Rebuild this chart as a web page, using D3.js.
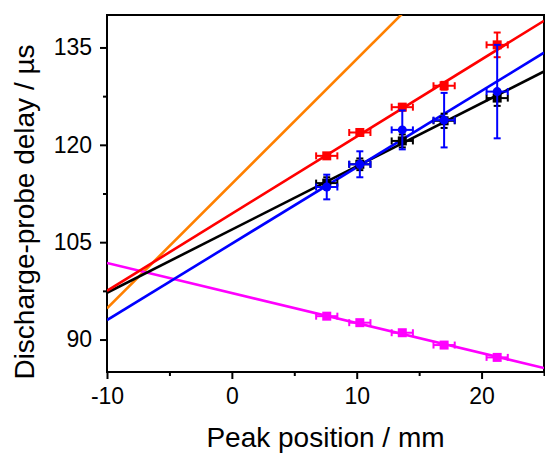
<!DOCTYPE html>
<html>
<head>
<meta charset="utf-8">
<script src="https://d3js.org/d3.v7.min.js"></script>
<style>
body { margin: 0; background: #fff; }
text { font-family: "Liberation Sans", Arial, sans-serif; }
.axis path { display: none; }
.axis line { stroke: #000; stroke-width: 2px; }
.axis text { font-size: 23px; fill: #000; }
</style>
</head>
<body>
<svg id="chart" width="545" height="454"></svg>
<script>

// peak positions (mm) of the measured points
var peakX = [7.6, 10.25, 13.65, 17.0, 21.25];
var xErr = [0.85, 0.85, 0.85, 0.85, 0.85];

// delays (us)
var redY = [118.3, 121.9, 125.8, 129.1, 135.4];
var redErr = [0.4, 0.4, 0.5, 0.6, 1.9];
var blackY = [114.1, 117.0, 120.6, 123.7, 127.2];
var blackErr = [0.9, 0.9, 1.0, 1.1, 1.2];
var blueY = [113.5, 117.0, 122.3, 123.8, 128.2];
var blueErr = [1.9, 2.0, 3.0, 4.2, 7.2];
var magentaY = [93.6, 92.6, 91.05, 89.15, 87.25];
var magentaErr = [0.4, 0.4, 0.4, 0.4, 0.4];

// end points of the fitted lines
var redFit = [[-10, 97.5], [25, 139.1]];
var blackFit = [[-10, 97.2], [25, 131.3]];
var blueFit = [[-10, 93.0], [25, 134.2]];
var orangeFit = [[-10, 94.8], [25, 162.0]];
var magentaFit = [[-10, 101.8], [25, 85.6]];

var xTicks = [-10, 0, 10, 20];
var xMinor = [-5, 5, 15, 25];
var yTicks = [90, 105, 120, 135];
var yMinor = [97.5, 112.5, 127.5];

var svg = d3.select("#chart");
var mLeft = 107, mRight = 544, mTop = 15, mBottom = 372;

var x = d3.scaleLinear().domain([-10, 25]).range([mLeft, mRight]);
var y = d3.scaleLinear().domain([85, 140]).range([mBottom, mTop]);

svg.append("defs").append("clipPath").attr("id", "clip")
  .append("rect").attr("x", mLeft).attr("y", mTop)
  .attr("width", mRight - mLeft).attr("height", mBottom - mTop);

// axes
svg.append("g").attr("class", "axis")
  .attr("transform", "translate(0," + mBottom + ")")
  .call(d3.axisBottom(x).tickValues(xTicks).tickSize(7).tickPadding(9).tickFormat(d3.format("d")));
svg.append("g").attr("class", "axis")
  .attr("transform", "translate(0," + mBottom + ")")
  .call(d3.axisBottom(x).tickValues(xMinor).tickSize(4).tickFormat(""));
svg.append("g").attr("class", "axis")
  .attr("transform", "translate(" + mLeft + ",0)")
  .call(d3.axisLeft(y).tickValues(yTicks).tickSize(7).tickPadding(8));
svg.append("g").attr("class", "axis")
  .attr("transform", "translate(" + mLeft + ",0)")
  .call(d3.axisLeft(y).tickValues(yMinor).tickSize(4).tickFormat(""));

svg.selectAll(".axis text").text(function(){ return d3.select(this).text().replace("\u2212", "-"); });

svg.append("rect")
  .attr("x", mLeft).attr("y", mTop)
  .attr("width", mRight - mLeft).attr("height", mBottom - mTop)
  .attr("fill", "none").attr("stroke", "#000").attr("stroke-width", 2);

// fit lines
var line = d3.line().x(function(d){ return x(d[0]); }).y(function(d){ return y(d[1]); });
var plot = svg.append("g").attr("clip-path", "url(#clip)");

var fits = [
  [orangeFit, "#ff8000"],
  [magentaFit, "#ff00ff"],
  [blackFit, "#000000"],
  [blueFit, "#0000ff"],
  [redFit, "#ff0000"]
];
fits.forEach(function(f){
  plot.append("path").attr("d", line(f[0]))
    .attr("fill", "none").attr("stroke", f[1]).attr("stroke-width", 2.6);
});

// points with error bars
function drawSeries(ys, errs, color, shape) {
  var g = plot.append("g").attr("stroke", color).attr("fill", color).attr("stroke-width", 2);
  var cap = 3.5;
  peakX.forEach(function(px, i){
    var cx = x(px), cy = y(ys[i]);
    var x0 = x(px - xErr[i]), x1 = x(px + xErr[i]);
    var y0 = y(ys[i] - errs[i]), y1 = y(ys[i] + errs[i]);
    g.append("line").attr("x1", x0).attr("x2", x1).attr("y1", cy).attr("y2", cy);
    g.append("line").attr("x1", x0).attr("x2", x0).attr("y1", cy - cap).attr("y2", cy + cap);
    g.append("line").attr("x1", x1).attr("x2", x1).attr("y1", cy - cap).attr("y2", cy + cap);
    g.append("line").attr("x1", cx).attr("x2", cx).attr("y1", y0).attr("y2", y1);
    g.append("line").attr("x1", cx - cap).attr("x2", cx + cap).attr("y1", y0).attr("y2", y0);
    g.append("line").attr("x1", cx - cap).attr("x2", cx + cap).attr("y1", y1).attr("y2", y1);
    if (shape == "circle") {
      g.append("circle").attr("cx", cx).attr("cy", cy).attr("r", 4.5).attr("stroke", "none");
    } else {
      g.append("rect").attr("x", cx - 4.5).attr("y", cy - 4.5).attr("width", 9).attr("height", 9).attr("stroke", "none");
    }
  });
}

drawSeries(magentaY, magentaErr, "#ff00ff", "square");
drawSeries(blackY, blackErr, "#000000", "square");
drawSeries(redY, redErr, "#ff0000", "square");
drawSeries(blueY, blueErr, "#0000ff", "circle");

// titles
svg.append("text")
  .attr("x", (mLeft + mRight) / 2).attr("y", 447)
  .attr("text-anchor", "middle").attr("font-size", 28)
  .text("Peak position / mm");

svg.append("text")
  .attr("transform", "translate(34,212) rotate(-90)")
  .attr("text-anchor", "middle").attr("font-size", 28)
  .text("Discharge-probe delay / \u00b5s");

</script>
</body>
</html>
